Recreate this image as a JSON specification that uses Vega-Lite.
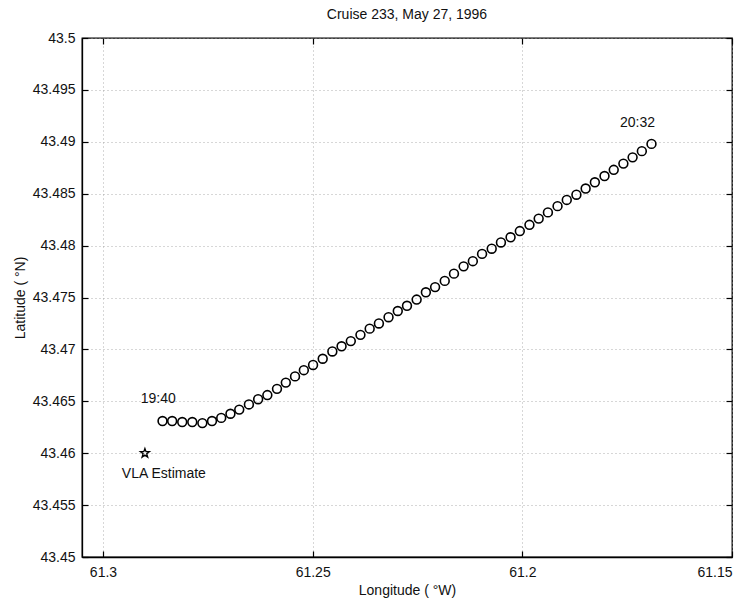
{
  "$schema": "https://vega.github.io/schema/vega-lite/v6.json",
  "width": 650,
  "height": 519,
  "autosize": {"type": "none"},
  "padding": {"left": 82, "top": 38, "right": 18, "bottom": 43},
  "background": "white",
  "title": {
    "text": "Cruise 233, May 27, 1996",
    "font": "Liberation Sans",
    "fontSize": 14,
    "fontWeight": "normal",
    "color": "#111",
    "offset": 9
  },
  "config": {
    "view": {"stroke": "black", "strokeWidth": 1.3},
    "axis": {
      "labelFont": "Liberation Sans",
      "labelFontSize": 14,
      "labelColor": "#111",
      "titleFont": "Liberation Sans",
      "titleFontSize": 14,
      "titleFontWeight": "normal",
      "titleColor": "#111",
      "domainColor": "black",
      "domainWidth": 1.3,
      "tickColor": "black",
      "tickWidth": 1.2,
      "tickSize": 6,
      "gridColor": "#999",
      "gridDash": [1, 3],
      "gridWidth": 0.8
    }
  },
  "datasets": {
    "track": [
      {"time": "19:40", "lon": 61.2858, "lat": 43.4631},
      {"time": "19:41", "lon": 61.2835, "lat": 43.4631},
      {"time": "19:42", "lon": 61.2811, "lat": 43.4630},
      {"time": "19:43", "lon": 61.2787, "lat": 43.4630},
      {"time": "19:44", "lon": 61.2763, "lat": 43.4629},
      {"time": "19:45", "lon": 61.2740, "lat": 43.4631},
      {"time": "19:46", "lon": 61.2718, "lat": 43.4634},
      {"time": "19:47", "lon": 61.2696, "lat": 43.4638},
      {"time": "19:48", "lon": 61.2675, "lat": 43.4642},
      {"time": "19:49", "lon": 61.2652, "lat": 43.4647},
      {"time": "19:50", "lon": 61.2630, "lat": 43.4652},
      {"time": "19:51", "lon": 61.2608, "lat": 43.4656},
      {"time": "19:52", "lon": 61.2585, "lat": 43.4662},
      {"time": "19:53", "lon": 61.2564, "lat": 43.4668},
      {"time": "19:54", "lon": 61.2542, "lat": 43.4674},
      {"time": "19:55", "lon": 61.2521, "lat": 43.4680},
      {"time": "19:56", "lon": 61.2499, "lat": 43.4685},
      {"time": "19:57", "lon": 61.2476, "lat": 43.4691},
      {"time": "19:58", "lon": 61.2453, "lat": 43.4698},
      {"time": "19:59", "lon": 61.2431, "lat": 43.4703},
      {"time": "20:00", "lon": 61.2409, "lat": 43.4708},
      {"time": "20:01", "lon": 61.2386, "lat": 43.4714},
      {"time": "20:02", "lon": 61.2364, "lat": 43.4720},
      {"time": "20:03", "lon": 61.2342, "lat": 43.4725},
      {"time": "20:04", "lon": 61.2319, "lat": 43.4731},
      {"time": "20:05", "lon": 61.2297, "lat": 43.4737},
      {"time": "20:06", "lon": 61.2275, "lat": 43.4742},
      {"time": "20:07", "lon": 61.2252, "lat": 43.4748},
      {"time": "20:08", "lon": 61.2230, "lat": 43.4755},
      {"time": "20:09", "lon": 61.2208, "lat": 43.4760},
      {"time": "20:10", "lon": 61.2185, "lat": 43.4766},
      {"time": "20:11", "lon": 61.2163, "lat": 43.4773},
      {"time": "20:12", "lon": 61.2140, "lat": 43.4780},
      {"time": "20:13", "lon": 61.2118, "lat": 43.4785},
      {"time": "20:14", "lon": 61.2096, "lat": 43.4792},
      {"time": "20:15", "lon": 61.2073, "lat": 43.4797},
      {"time": "20:16", "lon": 61.2051, "lat": 43.4803},
      {"time": "20:17", "lon": 61.2028, "lat": 43.4808},
      {"time": "20:18", "lon": 61.2006, "lat": 43.4814},
      {"time": "20:19", "lon": 61.1983, "lat": 43.4820},
      {"time": "20:20", "lon": 61.1961, "lat": 43.4826},
      {"time": "20:21", "lon": 61.1939, "lat": 43.4832},
      {"time": "20:22", "lon": 61.1916, "lat": 43.4838},
      {"time": "20:23", "lon": 61.1894, "lat": 43.4844},
      {"time": "20:24", "lon": 61.1871, "lat": 43.4849},
      {"time": "20:25", "lon": 61.1849, "lat": 43.4855},
      {"time": "20:26", "lon": 61.1827, "lat": 43.4861},
      {"time": "20:27", "lon": 61.1804, "lat": 43.4867},
      {"time": "20:28", "lon": 61.1782, "lat": 43.4873},
      {"time": "20:29", "lon": 61.1759, "lat": 43.4879},
      {"time": "20:30", "lon": 61.1737, "lat": 43.4885},
      {"time": "20:31", "lon": 61.1715, "lat": 43.4891},
      {"time": "20:32", "lon": 61.1692, "lat": 43.4898}
    ],
    "estimate": [
      {"name": "VLA", "lon": 61.29, "lat": 43.46}
    ],
    "notes": [
      {"label": "19:40", "lon": 61.2910, "lat": 43.4652},
      {"label": "20:32", "lon": 61.1767, "lat": 43.4918},
      {"label": "VLA Estimate", "lon": 61.2955, "lat": 43.4580}
    ]
  },
  "layer": [
    {
      "data": {"name": "track"},
      "mark": {
        "type": "point",
        "shape": "circle",
        "filled": false,
        "color": "black",
        "size": 78,
        "strokeWidth": 1.6,
        "opacity": 1
      },
      "encoding": {
        "x": {
          "field": "lon",
          "type": "quantitative",
          "scale": {"domain": [61.15, 61.305], "reverse": true, "zero": false, "nice": false},
          "axis": {
            "orient": "bottom",
            "values": [61.3, 61.25, 61.2, 61.15],
            "format": ".2~f",
            "title": "Longitude ( °W)",
            "grid": true,
            "ticks": false,
            "labelPadding": 8,
            "titlePadding": 4
          }
        },
        "y": {
          "field": "lat",
          "type": "quantitative",
          "scale": {"domain": [43.45, 43.5], "zero": false, "nice": false},
          "axis": {
            "orient": "left",
            "values": [43.45, 43.455, 43.46, 43.465, 43.47, 43.475, 43.48, 43.485, 43.49, 43.495, 43.5],
            "format": ".3~f",
            "title": "Latitude ( °N)",
            "grid": true,
            "ticks": false,
            "labelPadding": 7,
            "titlePadding": 5
          }
        }
      }
    },
    {
      "data": {"name": "estimate"},
      "mark": {
        "type": "point",
        "shape": "M0,-1L0.235,-0.324L0.951,-0.309L0.380,0.124L0.588,0.809L0,0.4L-0.588,0.809L-0.380,0.124L-0.951,-0.309L-0.235,-0.324Z",
        "filled": false,
        "color": "black",
        "size": 90,
        "strokeWidth": 1.3,
        "opacity": 1
      },
      "encoding": {
        "x": {
          "field": "lon",
          "type": "quantitative",
          "axis": {
            "orient": "bottom",
            "offset": -6,
            "values": [61.3, 61.25, 61.2, 61.15],
            "labels": false,
            "title": null,
            "grid": false,
            "domain": false
          }
        },
        "y": {
          "field": "lat",
          "type": "quantitative",
          "axis": {
            "orient": "left",
            "offset": -6,
            "values": [43.45, 43.455, 43.46, 43.465, 43.47, 43.475, 43.48, 43.485, 43.49, 43.495, 43.5],
            "labels": false,
            "title": null,
            "grid": false,
            "domain": false
          }
        }
      }
    },
    {
      "data": {"name": "notes"},
      "mark": {
        "type": "text",
        "font": "Liberation Sans",
        "fontSize": 14,
        "align": "left",
        "baseline": "middle",
        "color": "#111"
      },
      "encoding": {
        "x": {
          "field": "lon",
          "type": "quantitative",
          "axis": {
            "orient": "top",
            "offset": -6,
            "values": [61.3, 61.25, 61.2, 61.15],
            "labels": false,
            "title": null,
            "grid": false,
            "domain": false
          }
        },
        "y": {
          "field": "lat",
          "type": "quantitative",
          "axis": {
            "orient": "right",
            "offset": -6,
            "values": [43.45, 43.455, 43.46, 43.465, 43.47, 43.475, 43.48, 43.485, 43.49, 43.495, 43.5],
            "labels": false,
            "title": null,
            "grid": false,
            "domain": false
          }
        },
        "text": {"field": "label"}
      }
    }
  ],
  "resolve": {"axis": {"x": "independent", "y": "independent"}}
}
